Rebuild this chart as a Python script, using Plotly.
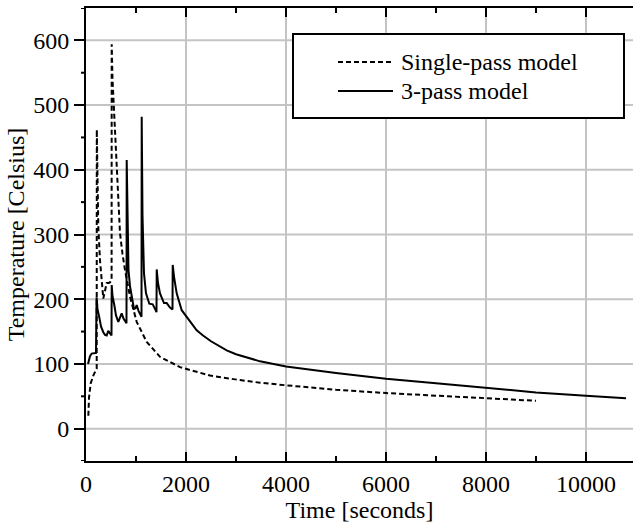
import plotly.graph_objects as go

# ---- data ----
single_t = [47, 60, 94, 146, 214, 216, 230, 246, 280, 346, 380, 414, 450, 480, 512, 514,
            530, 566, 600, 634, 680, 730, 780, 880, 1014, 1214, 1480, 1880, 2480, 3080,
            3480, 4000, 5000, 6000, 7000, 8000, 9000]
single_T = [20, 48, 70, 82, 93, 462, 390, 312, 260, 201, 212, 225, 225, 226, 230, 594,
            540, 477, 420, 374, 302, 270, 245, 204, 165, 134, 111, 95, 82, 75,
            71, 67, 60, 55, 51, 47, 43]

three_t = [40, 80, 114, 200, 212, 230, 266, 300, 346, 380, 414, 446, 480, 510,
           514, 530, 566, 600, 646, 680, 714, 750, 810,
           814, 830, 850, 880, 914, 960, 990, 1014, 1050, 1080, 1110,
           1114, 1130, 1160, 1200, 1266, 1334, 1380, 1410,
           1414, 1440, 1480, 1560, 1614, 1680, 1730,
           1734, 1760, 1814, 1914, 2014, 2214, 2340, 2500, 2814, 3000, 3480,
           4000, 5000, 6000, 7000, 8000, 9000, 10000, 10800]
three_T = [100, 112, 116, 117, 203, 185, 172, 158, 149, 145, 144, 151, 147, 144,
           222, 205, 191, 175, 165, 172, 178, 170, 163,
           415, 290, 245, 220, 205, 185, 186, 191, 182, 178, 173,
           482, 330, 240, 209, 193, 192, 185, 180,
           246, 225, 209, 194, 194, 187, 184,
           253, 235, 209, 183, 172, 152, 144, 135, 121, 115, 104,
           96, 86, 77, 70, 63, 56, 51, 47]

series_names = ["Single-pass model", "3-pass model"]
x_tick_vals = [0, 2000, 4000, 6000, 8000, 10000]
y_tick_vals = [0, 100, 200, 300, 400, 500, 600]
x_minor_vals = [1000, 3000, 5000, 7000, 9000]
y_minor_vals = [-50, 50, 150, 250, 350, 450, 550, 650]
x_title = "Time [seconds]"
y_title = "Temperature [Celsius]"

FONT = "Times New Roman"
FS = 24
GRID = "#c4c4c4"
W, H = 633, 524
L, R, T, B = 86, 0, 8, 63
pw, ph = W - L - R, H - T - B
x_range = [0, pw / 50 * 1000]
y_range = [-50, 650]

fig = go.Figure()
fig.add_trace(go.Scatter(x=single_t, y=single_T, mode="lines", name=series_names[0],
                         line=dict(color="black", width=2, dash="5px,3px")))
fig.add_trace(go.Scatter(x=three_t, y=three_T, mode="lines", name=series_names[1],
                         line=dict(color="black", width=2)))

def px2paper_x(px):
    return (px - L) / pw

def px2paper_y(py):
    return (H - B - py) / ph

txt = dict(family=FONT, size=FS, color="#000000")
tick_line = dict(color="black", width=2)

# grid lines beneath the curves
for v in x_tick_vals[1:]:
    fig.add_shape(type="line", xref="x", yref="paper", x0=v, x1=v, y0=0, y1=1,
                  line=dict(color=GRID, width=2), layer="below")
for v in y_tick_vals:
    fig.add_shape(type="line", xref="paper", yref="y", x0=0, x1=1, y0=v, y1=v,
                  line=dict(color=GRID, width=2), layer="below")

# minor tick marks: x inside (bottom and mirrored top), y outside (left)
for v in x_minor_vals:
    fig.add_shape(type="line", xref="x", yref="paper", x0=v, x1=v, y0=0, y1=5 / ph,
                  line=tick_line, layer="above")
    fig.add_shape(type="line", xref="x", yref="paper", x0=v, x1=v, y0=1, y1=1 - 5 / ph,
                  line=tick_line, layer="above")
for v in y_minor_vals:
    fig.add_shape(type="line", xref="paper", yref="y", x0=-5 / pw, x1=0, y0=v, y1=v,
                  line=tick_line, layer="above")

# legend box drawn manually to match the reference
fig.add_shape(type="rect", xref="paper", yref="paper",
              x0=px2paper_x(293), x1=px2paper_x(624), y0=px2paper_y(118), y1=px2paper_y(34),
              line=dict(color="black", width=2), fillcolor="white", layer="above")
rows = [(62, "5px,3px"), (91, "solid")]
for (ry, dash), name in zip(rows, series_names):
    fig.add_shape(type="line", xref="paper", yref="paper",
                  x0=px2paper_x(338), x1=px2paper_x(393), y0=px2paper_y(ry), y1=px2paper_y(ry),
                  line=dict(color="black", width=2, dash=dash), layer="above")
    fig.add_annotation(xref="paper", yref="paper", x=px2paper_x(399), y=px2paper_y(ry),
                       text=name, showarrow=False, xanchor="left", yanchor="middle",
                       font=txt)

fig.update_layout(
    width=W, height=H,
    margin=dict(l=L, r=R, t=T, b=B, pad=0),
    paper_bgcolor="white", plot_bgcolor="white",
    showlegend=False,
    font=txt,
    xaxis=dict(
        range=x_range, tickmode="array", tickvals=x_tick_vals,
        ticktext=[str(v) for v in x_tick_vals],
        showgrid=False, zeroline=False,
        showline=True, linecolor="black", linewidth=2, mirror="ticks",
        ticks="inside", ticklen=9, tickwidth=2, tickcolor="black",
        title=dict(text=x_title, standoff=0, font=txt),
        tickfont=txt,
    ),
    yaxis=dict(
        range=y_range, tickmode="array", tickvals=y_tick_vals,
        ticktext=[str(v) for v in y_tick_vals],
        showgrid=False, zeroline=False,
        showline=True, linecolor="black", linewidth=2,
        ticks="outside", ticklen=10, tickwidth=2, tickcolor="black",
        title=dict(text=y_title, standoff=2, font=txt),
        tickfont=txt,
    ),
)

fig.write_html("out.html")
